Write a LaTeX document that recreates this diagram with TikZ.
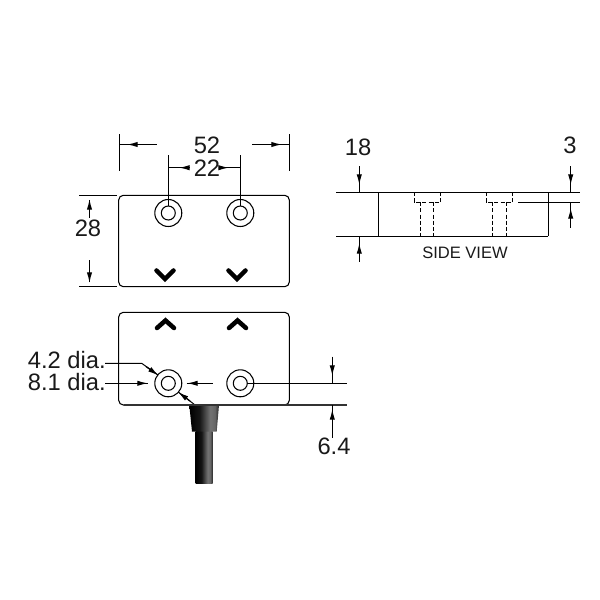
\documentclass[tikz,border=0pt]{standalone}
\usepackage{fontspec}
\setmainfont{Liberation Sans}
\usetikzlibrary{arrows.meta}
\pgfdeclarehorizontalshading{cableshade}{100bp}{color(0bp)=(black); color(25bp)=(black); color(42bp)=(black!92!white); color(60bp)=(black!55!white); color(68bp)=(black!60!white); color(75bp)=(black!85!white); color(100bp)=(black!85!white)}
\tikzset{
  outline/.style={line width=0.8pt,black},
  heavyline/.style={line width=1.2pt,black!80},
  dimline/.style={line width=0.75pt,black},
  hiddenline/.style={line width=0.75pt,black,dash pattern={on 3pt off 1.6pt}},
  dimtip/.style={line width=0.9pt,black,-{Latex[length=8pt,width=4pt]}},
  chevron/.style={line width=3.4pt,black,line cap=round,line join=miter},
  dimtext/.style={font=\fontsize{17.8}{19}\selectfont,inner sep=0pt,text=black!90},
  viewtext/.style={font=\fontsize{12.4}{14}\selectfont,inner sep=0pt,text=black!90},
}
\begin{document}
\begin{tikzpicture}[x=0.75pt,y=0.75pt,yscale=-1,xscale=1]
  \useasboundingbox (0,0) rectangle (600,600);
  % upper plan
  \draw [outline,rounded corners=3.5pt] (118.7,195.3) rectangle (289.3,286.7);
  \draw [outline] (168.3,213) circle (13.5);
  \draw [outline] (168.3,213) circle (7);
  \draw [outline] (240.3,213) circle (13.5);
  \draw [outline] (240.3,213) circle (7);
  \draw [chevron] (156.5,270.5) -- (165,279) -- (173.5,270.5);
  \draw [chevron] (228.5,270.5) -- (237,279) -- (245.5,270.5);
  % 52
  \draw [dimline] (119,134) -- (119,171);
  \draw [dimline] (289.3,134) -- (289.3,171);
  \draw [dimline] (119,144.5) -- (157,144.5);
  \draw [dimline] (252,144.5) -- (289.3,144.5);
  \draw [dimtip] (139,144.5) -- (127,144.5);
  \draw [dimtip] (270,144.5) -- (282,144.5);
  \node [dimtext] (lblwidth) at (207,145) {52};
  % 22
  \draw [dimline] (168.3,155) -- (168.3,206);
  \draw [dimline] (240.3,155) -- (240.3,206);
  \draw [dimline] (168.3,167.7) -- (190,167.7);
  \draw [dimline] (219,167.7) -- (240.3,167.7);
  \draw [dimtip] (189,167.7) -- (179,167.7);
  \draw [dimtip] (219,167.7) -- (229,167.7);
  \node [dimtext] (lblpitch) at (207,168) {22};
  % 28
  \draw [dimline] (79,195.3) -- (117,195.3);
  \draw [dimline] (79,286.7) -- (117,286.7);
  \draw [dimline] (89.5,200) -- (89.5,218);
  \draw [dimline] (89.5,260) -- (89.5,282);
  \draw [dimtip] (89.5,214) -- (89.5,199);
  \draw [dimtip] (89.5,268) -- (89.5,283);
  \node [dimtext] (lblheight) at (88,228.5) {28};
  % lower plan
  \shade [shading=cableshade] (195.7,431) rectangle (212.7,483);
  \shade [shading=cableshade] (189.3,405) -- (219,405) -- (216.7,431.7) -- (192,431.7) -- cycle;
  \draw [outline,rounded corners=3.5pt] (118.7,312.3) rectangle (289.3,405);
  \draw [outline] (168.3,383.3) circle (13.5);
  \draw [outline] (168.3,383.3) circle (7);
  \draw [outline] (240.3,383.3) circle (13.5);
  \draw [outline] (240.3,383.3) circle (7);
  \draw [chevron] (157,328) -- (165.5,320.5) -- (174,328);
  \draw [chevron] (229,328) -- (237.5,320.5) -- (246,328);
  % dia. leaders
  \node [dimtext,anchor=east] (lblinner) at (106,360) {4.2 dia.};
  \node [dimtext,anchor=east] (lblouter) at (106,382.5) {8.1 dia.};
  \draw [dimline] (105,363.3) -- (141.7,363.3) -- (158,375);
  \draw [dimtip] (146,366.5) -- (158.5,375.5);
  \draw [dimline] (105,383.3) -- (148,383.3);
  \draw [dimtip] (134,383.3) -- (148,383.3);
  \draw [dimline] (186.7,383.3) -- (212.7,383.3);
  \draw [dimtip] (200,383.3) -- (187,383.3);
  \draw [dimline] (178.3,392) -- (195,405);
  \draw [dimtip] (190,401) -- (178,392);
  % 6.4
  \draw [dimline] (247.3,383.3) -- (347,383.3);
  \draw [heavyline] (124,405) -- (347,405);
  \draw [dimline] (332.3,356.7) -- (332.3,383.3);
  \draw [dimline] (332.3,405) -- (332.3,438);
  \draw [dimtip] (332.3,363) -- (332.3,376);
  \draw [dimtip] (332.3,424) -- (332.3,409);
  \node [dimtext] (lbloffset) at (334,446.5) {6.4};
  % side view
  \draw [outline] (378.3,192.3) -- (378.3,236.3);
  \draw [outline] (548.3,192.3) -- (548.3,236.3);
  \draw [dimline] (336,192.3) -- (580,192.3);
  \draw [dimline] (336,236.3) -- (548.3,236.3);
  \draw [dimline] (518,202.3) -- (580,202.3);
  \draw [hiddenline] (414,192.3) -- (414,202.3) -- (440.7,202.3) -- (440.7,192.3);
  \draw [hiddenline] (420.3,202.3) -- (420.3,236.3);
  \draw [hiddenline] (433.3,202.3) -- (433.3,236.3);
  \draw [hiddenline] (486,192.3) -- (486,202.3) -- (512.7,202.3) -- (512.7,192.3);
  \draw [hiddenline] (492.3,202.3) -- (492.3,236.3);
  \draw [hiddenline] (506,202.3) -- (506,236.3);
  \node [viewtext] (lblside) at (465,253) {SIDE VIEW};
  % 18
  \draw [dimline] (359.3,166) -- (359.3,192.3);
  \draw [dimline] (359.3,236.3) -- (359.3,262);
  \draw [dimtip] (359.3,172) -- (359.3,185);
  \draw [dimtip] (359.3,256) -- (359.3,243);
  \node [dimtext] (lbldepth) at (358,147) {18};
  % 3
  \draw [dimline] (570.7,166) -- (570.7,192.3);
  \draw [dimline] (570.7,202.3) -- (570.7,228);
  \draw [dimtip] (570.7,172) -- (570.7,185);
  \draw [dimtip] (570.7,221) -- (570.7,208);
  \node [dimtext] (lbllip) at (570,145.5) {3};
\end{tikzpicture}
\end{document}
